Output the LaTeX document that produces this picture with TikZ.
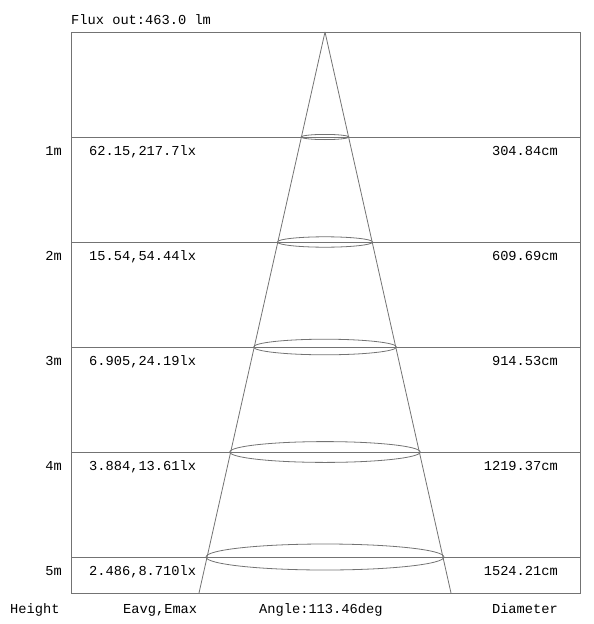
\documentclass[tikz,border=0pt]{standalone}
\usepackage{fontspec}
\setmonofont{Liberation Mono}
\begin{document}
\begin{tikzpicture}[x=1pt,y=-1pt,
  gline/.style={draw=black!55,line width=0.8pt},
  lbl/.style={font=\ttfamily\fontsize{13.7}{16}\selectfont,inner sep=0pt,text=black}]
\useasboundingbox (0,0) rectangle (594,624);
% frame
\coordinate (tl) at (71,32);
\coordinate (br) at (580,593);
\draw[gline] (tl) rectangle (br);
% apex and base
\coordinate (apex) at (325,32);
\coordinate (bl) at (199,593);
\coordinate (bR) at (451,593);
\draw[gline] (apex) -- (bl);
\draw[gline] (apex) -- (bR);
% levels
\foreach \k/\h/\ev/\dia in {1/1m/{62.15,217.7lx}/304.84cm,
                            2/2m/{15.54,54.44lx}/609.69cm,
                            3/3m/{6.905,24.19lx}/914.53cm,
                            4/4m/{3.884,13.61lx}/1219.37cm,
                            5/5m/{2.486,8.710lx}/1524.21cm}{
  \pgfmathsetmacro{\yy}{32+105*\k}
  \coordinate (L\k) at (71,\yy);
  \coordinate (R\k) at (580,\yy);
  \draw[gline] (L\k) -- (R\k);
  \draw[gline] (325,\yy) ellipse [x radius={23.8*\k}, y radius={2.6*\k}];
  \node[lbl,anchor=base east] (h\k) at (62,\yy+18) {\h};
  \node[lbl,anchor=base west] (e\k) at (89,\yy+18) {\ev};
  \node[lbl,anchor=base east] (d\k) at (558,\yy+18) {\dia};
}
\node[lbl,anchor=base west] (flux) at (71,24) {Flux out:463.0 lm};
\node[lbl,anchor=base west] (hh) at (10,613) {Height};
\node[lbl,anchor=base west] (ee) at (123,613) {Eavg,Emax};
\node[lbl,anchor=base west] (aa) at (259,613) {Angle:113.46deg};
\node[lbl,anchor=base east] (dd) at (558,613) {Diameter};
\end{tikzpicture}
\end{document}
